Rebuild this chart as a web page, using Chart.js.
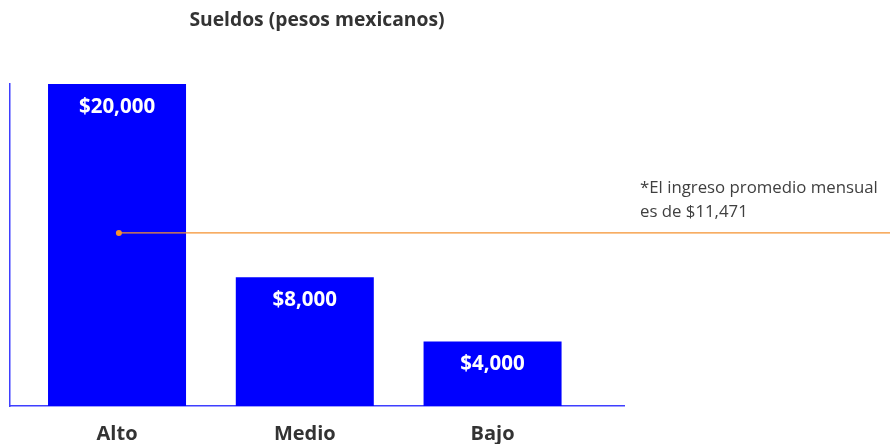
<!DOCTYPE html>
<html>
<head>
<meta charset="utf-8">
<script src="https://cdn.jsdelivr.net/npm/chart.js@4.4.1/dist/chart.umd.min.js"></script>
<style>
html,body{margin:0;padding:0;background:#fff;}
#wrap{width:890px;height:444px;position:relative;}
</style>
</head>
<body>
<div id="wrap"><canvas id="c"></canvas></div>
<script>
// ---- data ----
const categories = ['Alto', 'Medio', 'Bajo'];
const sueldos = [20000, 8000, 4000];
const promedioTexto = ['*El ingreso promedio mensual', 'es de $11,471'];
const promedioLinea = 10750; // position of the average line
const titulo = 'Sueldos (pesos mexicanos)';

const FONT = "'Open Sans', 'Noto Sans', sans-serif";
const fmt = v => '$' + v.toLocaleString('en-US');

const barData = categories.map((c, i) => ({x: i, y: sueldos[i]}));
const lineData = [{x: 0.01, y: promedioLinea}, {x: 4.5, y: promedioLinea}];

const labelsPlugin = {
  id: 'labels',
  afterDatasetsDraw(chart) {
    const ctx = chart.ctx;
    const meta = chart.getDatasetMeta(0);
    ctx.save();
    ctx.fillStyle = '#ffffff';
    ctx.font = "bold 20.5px " + FONT;
    ctx.textAlign = 'center';
    ctx.textBaseline = 'middle';
    meta.data.forEach((bar, i) => {
      ctx.fillText(fmt(sueldos[i]), bar.x, bar.y + 23);
    });
    // annotation
    const yScale = chart.scales.y;
    const ly = yScale.getPixelForValue(promedioLinea);
    ctx.fillStyle = '#404040';
    ctx.font = "16.8px " + FONT;
    ctx.textAlign = 'left';
    ctx.fillText(promedioTexto[0], chart.chartArea.right + 16, ly - 45);
    ctx.fillText(promedioTexto[1], chart.chartArea.right + 16, ly - 21);
    ctx.restore();
  }
};

new Chart(document.getElementById('c'), {
  data: {
    datasets: [
      {
        type: 'bar',
        data: barData,
        backgroundColor: '#0000ff',
        borderWidth: 0,
        barPercentage: 0.735,
        categoryPercentage: 1,
        order: 2
      },
      {
        type: 'line',
        data: lineData,
        borderColor: '#f5922f',
        borderWidth: 1.2,
        pointRadius: [3, 0],
        pointBackgroundColor: '#f5922f',
        pointBorderWidth: 0,
        clip: false,
        order: 1
      }
    ]
  },
  options: {
    responsive: true,
    maintainAspectRatio: false,
    animation: false,
    events: [],
    layout: {padding: {left: 10, right: 266, top: 0, bottom: 0}},
    plugins: {
      legend: {display: false},
      tooltip: {enabled: false},
      title: {
        display: true,
        text: titulo,
        fullSize: false,
        color: '#333333',
        font: {family: FONT, size: 19.3, weight: 'bold', lineHeight: 1.2},
        padding: {top: 8.5, bottom: 52.3}
      }
    },
    scales: {
      x: {
        type: 'linear',
        offset: false,
        min: -0.57,
        max: 2.70,
        afterBuildTicks(scale) {
          scale.ticks = categories.map((c, i) => ({value: i}));
        },
        afterFit(scale) { scale.height = 38; },
        grid: {display: false, drawTicks: false},
        border: {display: true, color: '#3f3fff', width: 1.5},
        ticks: {
          callback: v => categories[v],
          color: '#333333',
          font: {family: FONT, size: 20, weight: 'bold', lineHeight: 1.2},
          padding: 16,
          maxRotation: 0,
          autoSkip: false
        }
      },
      y: {
        min: 0,
        max: 20000,
        grid: {display: false, drawTicks: false},
        border: {display: true, color: '#3f3fff', width: 1.5},
        ticks: {display: false}
      }
    }
  },
  plugins: [labelsPlugin]
});
</script>
</body>
</html>
